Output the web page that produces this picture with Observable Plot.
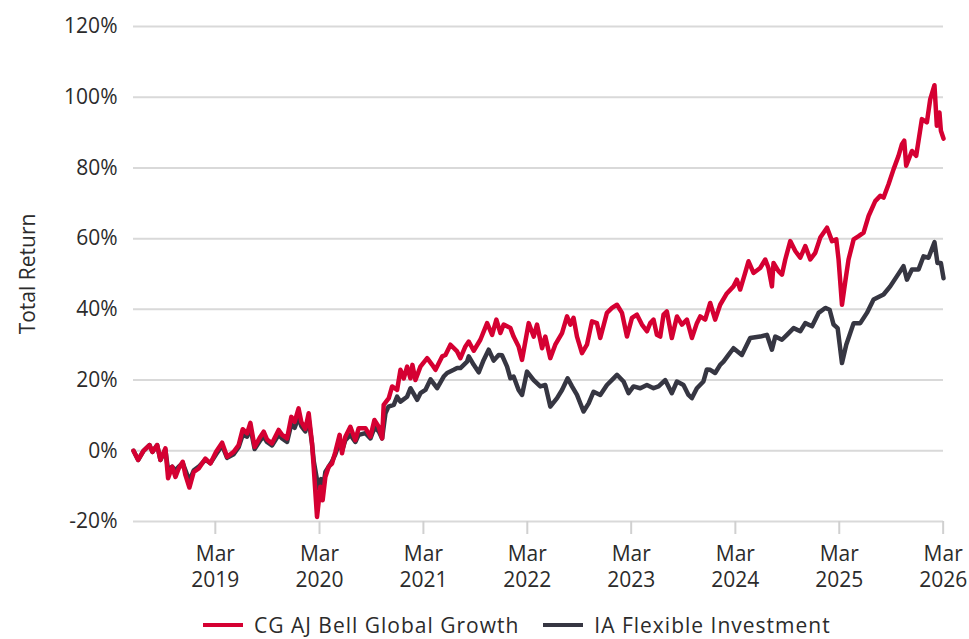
<!DOCTYPE html>
<html>
<head>
<meta charset="utf-8">
<script src="https://cdn.jsdelivr.net/npm/d3@7"></script>
<script src="https://cdn.jsdelivr.net/npm/@observablehq/plot@0.6"></script>
<style>
  html, body { margin: 0; padding: 0; background: #fff; }
  body { width: 969px; height: 639px; overflow: hidden; font-family: "Open Sans", sans-serif; color: #2b2b2b; }
  #legend { display: flex; align-items: center; padding-left: 203px; margin-top: 11px; font-size: 21px; line-height: 28px; white-space: nowrap; letter-spacing: 1px; }
  .sw { width: 40px; height: 4px; margin-right: 11px; }
  .item { display: flex; align-items: center; margin-right: 24px; }
</style>
</head>
<body>
<div id="chart"></div>
<div id="legend"></div>
<script>
const seriesNames = ["CG AJ Bell Global Growth", "IA Flexible Investment"];
const seriesColors = ["#d50032", "#363642"];
const yTicks = [-20, 0, 20, 40, 60, 80, 100, 120];
const xTickYears = [2019, 2020, 2021, 2022, 2023, 2024, 2025, 2026];
const xTickMonth = "Mar";
const yLabel = "Total Return";

// decimal year, total return (%)
const growthYears = [2018.374,2018.419,2018.470,2018.528,2018.556,2018.602,2018.633,2018.681,2018.707,2018.746,2018.778,2018.809,2018.848,2018.874,2018.912,2018.954,2019.002,2019.066,2019.114,2019.169,2019.227,2019.275,2019.338,2019.386,2019.425,2019.467,2019.499,2019.540,2019.595,2019.627,2019.659,2019.707,2019.771,2019.804,2019.852,2019.893,2019.925,2019.963,2019.989,2020.028,2020.060,2020.092,2020.109,2020.140,2020.172,2020.194,2020.220,2020.252,2020.284,2020.316,2020.357,2020.380,2020.412,2020.460,2020.508,2020.540,2020.605,2020.653,2020.691,2020.732,2020.765,2020.780,2020.829,2020.861,2020.909,2020.941,2020.973,2021.005,2021.037,2021.056,2021.085,2021.133,2021.198,2021.246,2021.278,2021.342,2021.374,2021.422,2021.486,2021.518,2021.566,2021.598,2021.646,2021.710,2021.775,2021.823,2021.864,2021.903,2021.934,2021.999,2022.030,2022.078,2022.111,2022.175,2022.223,2022.255,2022.304,2022.335,2022.383,2022.431,2022.496,2022.544,2022.576,2022.607,2022.640,2022.688,2022.736,2022.784,2022.832,2022.864,2022.928,2022.977,2023.025,2023.073,2023.121,2023.169,2023.217,2023.265,2023.313,2023.345,2023.377,2023.409,2023.441,2023.473,2023.505,2023.553,2023.602,2023.650,2023.698,2023.746,2023.794,2023.826,2023.874,2023.922,2023.970,2024.018,2024.082,2024.146,2024.178,2024.210,2024.258,2024.290,2024.338,2024.402,2024.451,2024.482,2024.515,2024.530,2024.578,2024.611,2024.643,2024.691,2024.739,2024.787,2024.835,2024.883,2024.931,2024.979,2025.044,2025.092,2025.133,2025.155,2025.188,2025.220,2025.251,2025.300,2025.348,2025.396,2025.444,2025.508,2025.556,2025.588,2025.636,2025.684,2025.732,2025.765,2025.787,2025.806,2025.861,2025.902,2025.957,2026.005,2026.037,2026.078,2026.101,2026.126,2026.140,2026.165];
const growthValues = [0,-2.6,0,1.6,-0.3,1.6,-2.6,0.7,-7.8,-4.5,-7.4,-5,-3.1,-6.9,-10.4,-6,-5,-2.2,-3.6,-0.3,2.3,-1.7,-0.3,1.6,6.1,4.9,7.9,1.1,4,5.4,3.2,2.1,5.9,4.5,3.5,9.6,8.2,12,8.2,6.2,10.6,2.1,-5,-18.7,-10.2,-14,-7.4,-4.5,-3.6,-0.3,4.5,-0.7,4,6.8,3,6.4,6.4,4,8.7,6.8,3.5,13,14.9,18.2,17.2,22.9,20.5,23.8,20.5,24.3,20,23.8,26.2,24.3,22.9,26.7,27.1,30,28.1,26.2,29.5,30.9,28.3,31.4,36.1,32.8,37.1,33.3,35.7,34.7,32.3,29.5,25.7,36.1,32.3,35.7,29,32.3,26.2,30,33.3,38,35.7,37.6,32.3,27.6,30,36.6,36.1,31.9,39,40.4,41.3,39,32.3,37.6,38.5,35.7,33.8,36.1,37.1,32.8,32.3,38.5,39.4,31.9,38,35.7,37.1,31.9,36.1,38,37.1,41.8,37.1,41.3,44.5,46.5,48.4,45.6,50.3,53.6,50.3,51.7,54.1,51.7,46.5,53.1,50.8,49.8,54.1,59.3,56.5,54.6,57.9,54.1,56,60.3,63.1,59.3,59.8,54.1,41.3,48,54.1,59.8,60.7,61.7,66.4,70.6,72.1,71.6,75.4,79.6,83.4,86.7,87.7,80.6,84.8,83.4,93.8,92.9,99.4,103.4,91.9,95.7,90.5,88.3];

const flexYears = [2018.374,2018.419,2018.470,2018.528,2018.556,2018.602,2018.633,2018.681,2018.707,2018.746,2018.778,2018.809,2018.848,2018.874,2018.912,2018.954,2019.002,2019.066,2019.114,2019.169,2019.227,2019.275,2019.338,2019.386,2019.425,2019.467,2019.499,2019.540,2019.595,2019.627,2019.659,2019.707,2019.771,2019.804,2019.852,2019.893,2019.925,2019.963,2019.989,2020.028,2020.060,2020.092,2020.109,2020.155,2020.179,2020.201,2020.220,2020.252,2020.284,2020.316,2020.357,2020.380,2020.412,2020.460,2020.508,2020.540,2020.605,2020.653,2020.691,2020.732,2020.765,2020.797,2020.826,2020.877,2020.909,2020.941,2021.005,2021.037,2021.102,2021.133,2021.181,2021.230,2021.294,2021.357,2021.390,2021.454,2021.486,2021.518,2021.582,2021.598,2021.646,2021.694,2021.742,2021.790,2021.838,2021.886,2021.919,2021.967,2021.999,2022.030,2022.078,2022.111,2022.159,2022.223,2022.287,2022.335,2022.383,2022.448,2022.496,2022.550,2022.592,2022.640,2022.703,2022.752,2022.800,2022.864,2022.928,2022.992,2023.025,2023.088,2023.136,2023.184,2023.249,2023.313,2023.377,2023.425,2023.489,2023.553,2023.602,2023.665,2023.713,2023.746,2023.794,2023.857,2023.890,2023.922,2023.970,2024.018,2024.050,2024.098,2024.146,2024.226,2024.306,2024.402,2024.467,2024.515,2024.547,2024.611,2024.659,2024.723,2024.787,2024.835,2024.900,2024.963,2025.027,2025.069,2025.107,2025.146,2025.188,2025.229,2025.300,2025.364,2025.428,2025.492,2025.588,2025.652,2025.717,2025.780,2025.813,2025.861,2025.925,2025.973,2026.021,2026.078,2026.107,2026.140,2026.165];
const flexValues = [0,-2.6,0,1.6,-0.3,1.6,-2.6,0.3,-5.5,-4.5,-5.5,-4.5,-3.5,-5.5,-8.5,-5.5,-4.5,-2.5,-3.5,-1,1.5,-2,-1,1,4.5,4,6.5,0.5,3,4,2.5,1.5,4.5,3.5,2.5,7.5,6.5,9.5,7,5.5,9,2,-3,-10.7,-8,-10,-6,-4.5,-3,-1,2.5,0,3,4.5,2.5,4.5,5,3.5,6.5,5.5,3.5,10.6,12.5,13,15.3,13.9,15.3,17.7,14.4,16.3,17.2,20.2,17.7,21,22,22.9,23.4,23.4,25.2,26.7,24.3,22.2,25.7,28.6,25.5,27.1,27,23.8,20.5,21,17.2,15.8,22.4,20,18.2,18.6,12.5,14.9,17.2,20.5,18.2,15.8,11.1,13.4,16.7,15.8,18.6,20.5,21.5,19.6,16.3,18.2,17.7,18.6,17.7,18.2,20,16.3,19.6,18.6,15.8,14.9,17.7,19.6,23,22.9,22,24.3,25.2,27.1,29,27.1,31.9,32.3,32.8,28.6,32.3,31.4,32.8,34.7,33.8,36.1,35.2,39,40.4,39.9,35.7,34.7,24.8,30,36.1,36.1,39,42.8,44.2,46.5,49.4,52.2,48.4,51.3,51.3,55,54.6,59,53.1,53.1,48.8];

function yd(y) {
  const yr = Math.floor(y);
  const s = Date.UTC(yr, 0, 1), e = Date.UTC(yr + 1, 0, 1);
  return new Date(s + (y - yr) * (e - s));
}

const data = [];
flexYears.forEach((y, i) => data.push({series: seriesNames[1], date: yd(y), value: flexValues[i]}));
growthYears.forEach((y, i) => data.push({series: seriesNames[0], date: yd(y), value: growthValues[i]}));

const xTicks = xTickYears.map(y => new Date(Date.UTC(y, 2, 1)));
const xDomain = [yd(2018.374), yd(2026.165)];

const plot = Plot.plot({
  width: 969,
  height: 600,
  marginLeft: 133,
  marginRight: 26,
  marginTop: 26,
  marginBottom: 79,
  style: {fontFamily: "Open Sans, sans-serif", fontSize: "21px", color: "#2b2b2b", background: "#fff"},
  x: {type: "utc", domain: xDomain},
  y: {domain: [-20, 120]},
  color: {domain: seriesNames, range: seriesColors},
  marks: [
    Plot.ruleY(yTicks, {stroke: "#d9d9d9", strokeWidth: 2}),
    Plot.axisY({ticks: yTicks, tickSize: 0, tickPadding: 16, tickFormat: d => d + "%", label: null, fill: "#2b2b2b"}),
    Plot.axisX({ticks: xTicks, tickSize: 13, tickPadding: 9, stroke: "#d0d0d0", strokeWidth: 2, fill: "#2b2b2b",
      lineHeight: 1.2, label: null,
      tickFormat: d => xTickMonth + "\n" + d.getUTCFullYear()}),
    Plot.text([yLabel], {frameAnchor: "left", dx: -105, rotate: -90, text: d => d, textAnchor: "middle", lineAnchor: "middle", fill: "#2b2b2b"}),
    Plot.lineY(data.filter(d => d.series === seriesNames[1]), {x: "date", y: "value", stroke: "series", strokeWidth: 4.5, strokeLinejoin: "round", strokeLinecap: "round"}),
    Plot.lineY(data.filter(d => d.series === seriesNames[0]), {x: "date", y: "value", stroke: "series", strokeWidth: 4.5, strokeLinejoin: "round", strokeLinecap: "round"})
  ]
});
document.getElementById("chart").appendChild(plot);

const legend = document.getElementById("legend");
seriesNames.forEach((n, i) => {
  const it = document.createElement("div");
  it.className = "item";
  const sw = document.createElement("div");
  sw.className = "sw";
  sw.style.background = seriesColors[i];
  const tx = document.createElement("span");
  tx.textContent = n;
  it.appendChild(sw); it.appendChild(tx);
  legend.appendChild(it);
});
</script>
</body>
</html>
